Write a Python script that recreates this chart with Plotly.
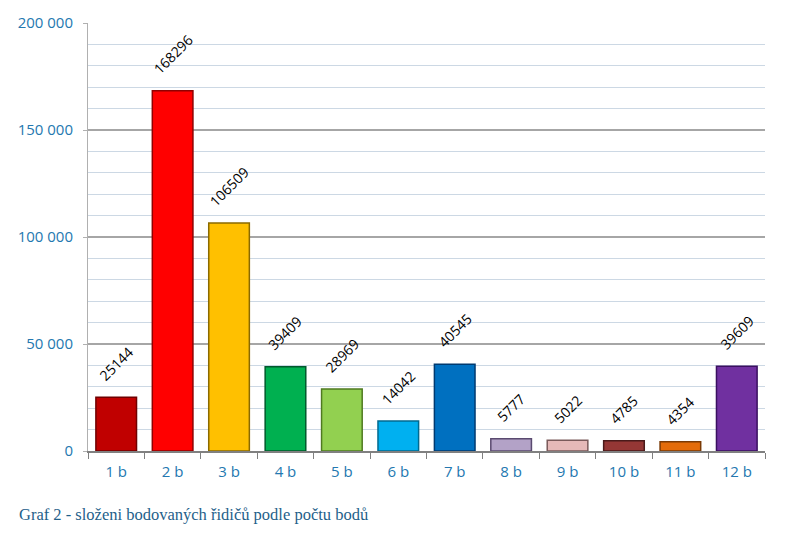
import plotly.graph_objects as go

categories = ["1 b", "2 b", "3 b", "4 b", "5 b", "6 b", "7 b", "8 b", "9 b", "10 b", "11 b", "12 b"]
values = [25144, 168296, 106509, 39409, 28969, 14042, 40545, 5777, 5022, 4785, 4354, 39609]
colors = ["#c00000", "#ff0000", "#ffc000", "#00b050", "#92d050", "#00b0f0",
          "#0070c0", "#b3a2c7", "#e6b9b8", "#953735", "#e46c0a", "#7030a0"]
edge_colors = ["#700000", "#900000", "#8a6a00", "#005a2c", "#4f7a20", "#006a90",
               "#003a70", "#5a4a70", "#7a5a5a", "#4a1a1a", "#7a3a05", "#3a1060"]
caption = "Graf 2 - složeni bodovaných řidičů podle počtu bodů"

fig = go.Figure(go.Bar(
    x=categories, y=values,
    marker=dict(color=colors, line=dict(color=edge_colors, width=1.5)),
    cliponaxis=False,
))

annotations = []
for c, v in zip(categories, values):
    annotations.append(dict(
        x=c, y=v, xref="x", yref="y", text=str(v), textangle=-45,
        xanchor="center", yanchor="bottom", yshift=10, showarrow=False,
        font=dict(family="Open Sans, sans-serif", size=14, color="black"),
    ))

annotations.append(dict(
    text=caption, xref="paper", yref="paper",
    x=-88/677 + 17/677, y=-64/434, xanchor="left", yanchor="middle",
    showarrow=False,
    font=dict(family="Liberation Serif, serif", size=16.5, color="#1f5f8a"),
))

fig.update_layout(
    width=807, height=541,
    margin=dict(l=88, r=42, t=17, b=90),
    plot_bgcolor="white", paper_bgcolor="white",
    bargap=0.28,
    separators=", ",
    showlegend=False,
    font=dict(family="Open Sans, sans-serif"),
    xaxis=dict(
        showline=True, linecolor="#808080", linewidth=1.5,
        ticks="outside", tickson="boundaries", ticklen=6, tickcolor="#808080",
        tickfont=dict(size=15, color="#2478b0"),
        ticklabelstandoff=6,
        showgrid=False,
    ),
    yaxis=dict(
        range=[0, 200000], dtick=50000, tickformat=",d",
        showline=True, linecolor="#b0b0b0", linewidth=1,
        ticks="outside", ticklen=4, tickcolor="#b0b0b0",
        tickfont=dict(size=15, color="#2478b0"),
        ticklabelstandoff=7,
        gridcolor="#a6a6a6", gridwidth=1.5,
        minor=dict(dtick=10000, showgrid=True, gridcolor="#ccd8e4", gridwidth=1),
        zeroline=False,
    ),
    annotations=annotations,
)

fig.write_html("out.html")
